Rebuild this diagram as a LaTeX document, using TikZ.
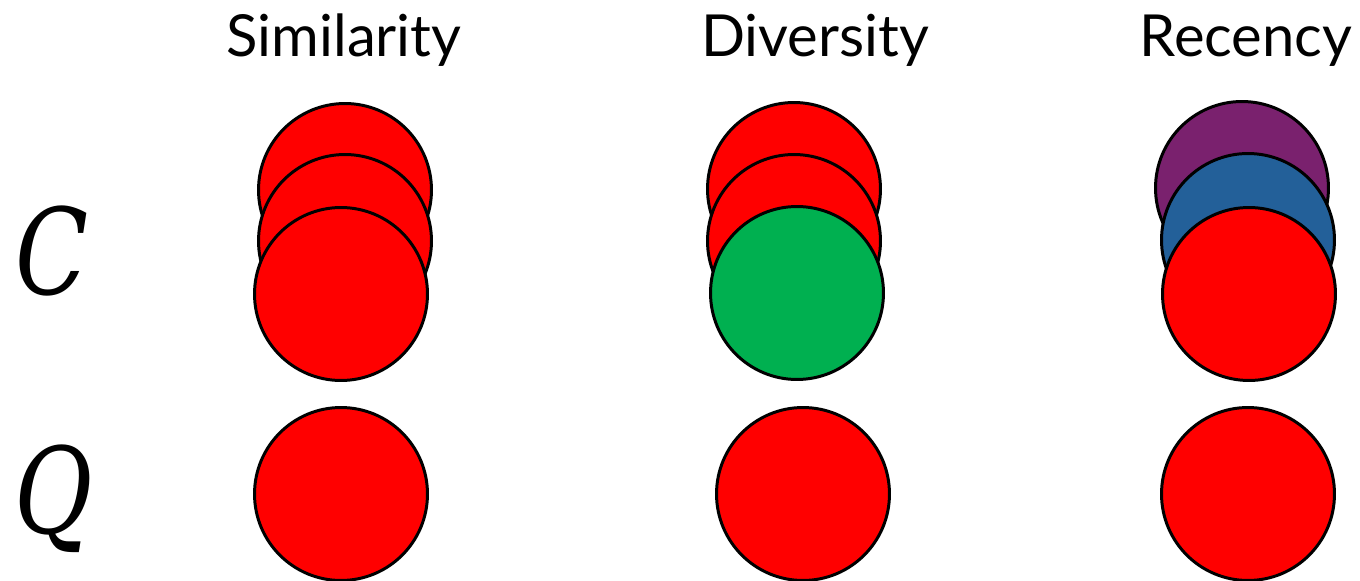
\documentclass[tikz,border=0pt]{standalone}
\usepackage{fontspec}
\setsansfont{Lato}
\newfontfamily\varfont{DejaVu Serif}
\usepackage{tikz}
\definecolor{redc}{HTML}{FF0000}
\definecolor{greenc}{HTML}{00B050}
\definecolor{purplec}{HTML}{7A216E}
\definecolor{bluec}{HTML}{236099}
\tikzset{
  dot/.style={circle,draw=black,line width=1.7pt,minimum size=3.46cm,inner sep=0pt,fill=redc},
  head/.style={font=\sffamily\fontsize{33}{33}\selectfont,anchor=base,inner sep=0pt},
  lbl/.style={font=\varfont\itshape\fontsize{68}{68}\selectfont,anchor=base,inner sep=0pt,xscale=0.8,transform shape},
}

\begin{document}
\begin{tikzpicture}[x=0.02cm,y=-0.02cm]
  \useasboundingbox (0,0) rectangle (1360,581);
  % column heads
  \node[head] (hsim) at (344,57) {Similarity};
  \node[head] (hdiv) at (815,57) {Diversity};
  \node[head] (hrec) at (1246,57) {Recency};
  % row labels
  \node[lbl] (lc) at (52,295) {C};
  \node[lbl] (lq) at (54,533) {Q};
  % similarity
  \node[dot] (s1) at (345,190) {};
  \node[dot] (s2) at (345,241) {};
  \node[dot] (s3) at (341,294) {};
  \node[dot] (sq) at (341,494) {};
  % diversity
  \node[dot] (d1) at (794,189) {};
  \node[dot] (d2) at (794,241) {};
  \node[dot,fill=greenc] (d3) at (797,293) {};
  \node[dot] (dq) at (803,494) {};
  % recency
  \node[dot,fill=purplec] (r1) at (1242,188) {};
  \node[dot,fill=bluec] (r2) at (1248,240) {};
  \node[dot] (r3) at (1249,294) {};
  \node[dot] (rq) at (1248,494) {};
\end{tikzpicture}
\end{document}
